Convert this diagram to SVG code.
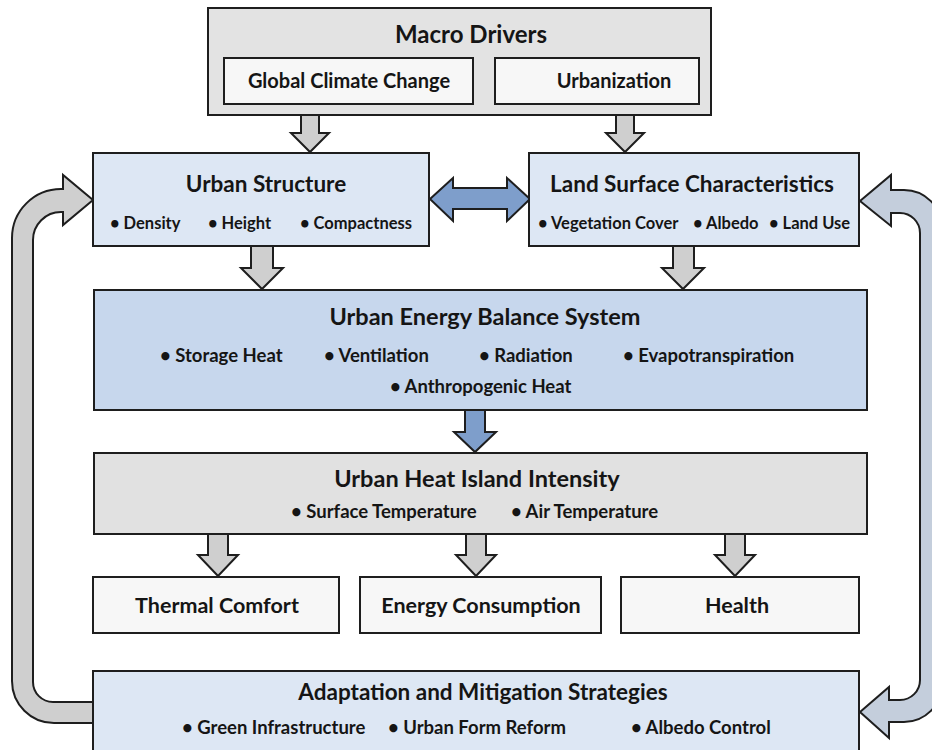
<svg xmlns="http://www.w3.org/2000/svg" width="932" height="750" viewBox="0 0 932 750">
<defs>
<style>
.box{stroke:#1e1e1e;stroke-width:2}
.gray{fill:#e3e3e3}
.white{fill:#f7f7f7}
.lblue{fill:#dde7f4}
.mblue{fill:#c7d7ed}
.uhi{fill:#e1e1e1}
.t{font-family:Lato,"Open Sans","Liberation Sans",sans-serif;font-weight:700;fill:#151515;text-anchor:middle}
.t24{font-size:24px}
.t20{font-size:20px}
.t225{font-size:22.5px}
.t235{font-size:23.5px}
.t215{font-size:21.5px}
.b{font-family:Lato,"Open Sans","Liberation Sans",sans-serif;font-weight:700;fill:#151515}
.b165{font-size:16.5px}
.b185{font-size:18.5px}
.ga{fill:#cfcfcf;stroke:#1e1e1e;stroke-width:2;stroke-linejoin:miter}
.ba{fill:#7e9ecb;stroke:#1e1e1e;stroke-width:2}
.ra{fill:#c4cedc;stroke:#1e1e1e;stroke-width:2}
</style>
</defs>
<rect width="932" height="750" fill="#ffffff"/>

<g id="connectors">
<path class="ga" d="M301,115 L319,115 L319,133 L329,133 L310,152 L291,133 L301,133 Z"/>
<path class="ga" d="M616,115 L634,115 L634,133 L644,133 L625,152 L606,133 L616,133 Z"/>
<path class="ga" d="M251,246 L273,246 L273,268 L283,268 L262,289 L241,268 L251,268 Z"/>
<path class="ga" d="M673,246 L694,246 L694,268 L704,268 L683,289 L662,268 L673,268 Z"/>
<path class="ba" d="M465,410 L485,410 L485,432 L496,432 L475,452 L454,432 L465,432 Z"/>
<path class="ga" d="M208,534 L228,534 L228,555 L238,555 L218,576 L198,555 L208,555 Z"/>
<path class="ga" d="M466,534 L486,534 L486,555 L496,555 L476,576 L456,555 L466,555 Z"/>
<path class="ga" d="M725,534 L745,534 L745,555 L755,555 L735,576 L715,555 L725,555 Z"/>
<path class="ba" d="M430,199 L453,178 L453,188 L507,188 L507,178 L530,199 L507,221 L507,209 L453,209 L453,221 Z"/>
<path class="ga" d="M93,702 L53,702 A20,20 0 0 1 33,682 L33,240 A28,28 0 0 1 61,212 L63,212 L63,225 L93,200 L63,175 L63,189 L61,189 A49,49 0 0 0 12,238 L12,681 A42,42 0 0 0 54,723 L93,723 Z"/>
<path class="ra" d="M860,201 L891,175 L891,190 L904,190 A38,38 0 0 1 942,228 L942,684 A38,38 0 0 1 904,722 L889,722 L889,738 L860,712 L889,687 L889,700 L900,700 A20,20 0 0 0 920,680 L920,233 A20,20 0 0 0 900,213 L891,213 L891,226 Z"/>
</g>

<g id="macro-drivers">
<rect class="box gray" x="208" y="8" width="503" height="107"/>
<text class="t t24" x="471" y="43">Macro Drivers</text>
</g>
<g id="global-climate-change">
<rect class="box white" x="224" y="58" width="249" height="46"/>
<text class="t t20" x="349" y="88">Global Climate Change</text>
</g>
<g id="urbanization">
<rect class="box white" x="495" y="58" width="204" height="46"/>
<text class="t t20" x="614" y="88">Urbanization</text>
</g>

<g id="urban-structure">
<rect class="box lblue" x="93" y="153" width="336" height="93"/>
<text class="t t225" x="266" y="192">Urban Structure</text>
<text class="b b165" x="110" y="229">• Density</text>
<text class="b b165" x="208" y="229">• Height</text>
<text class="b b165" x="300" y="229">• Compactness</text>
</g>

<g id="land-surface">
<rect class="box lblue" x="529" y="153" width="330" height="93"/>
<text class="t t225" x="692" y="192">Land Surface Characteristics</text>
<text class="b b165" x="538" y="229">• Vegetation Cover</text>
<text class="b b165" x="693" y="229">• Albedo</text>
<text class="b b165" x="769" y="229">• Land Use</text>
</g>

<g id="energy-balance">
<rect class="box mblue" x="94" y="290" width="773" height="120"/>
<text class="t t235" x="485" y="325">Urban Energy Balance System</text>
<text class="b b185" x="160" y="362">• Storage Heat</text>
<text class="b b185" x="324" y="362">• Ventilation</text>
<text class="b b185" x="479" y="362">• Radiation</text>
<text class="b b185" x="623" y="362">• Evapotranspiration</text>
<text class="b b185" x="390" y="393">• Anthropogenic Heat</text>
</g>

<g id="heat-island">
<rect class="box uhi" x="94" y="453" width="773" height="81"/>
<text class="t t235" x="477" y="487">Urban Heat Island Intensity</text>
<text class="b b185" x="291" y="518">• Surface Temperature</text>
<text class="b b185" x="511" y="518">• Air Temperature</text>
</g>

<g id="thermal-comfort">
<rect class="box white" x="93" y="577" width="246" height="56"/>
<text class="t t215" x="217" y="613">Thermal Comfort</text>
</g>
<g id="energy-consumption">
<rect class="box white" x="360" y="577" width="241" height="56"/>
<text class="t t215" x="481" y="613">Energy Consumption</text>
</g>
<g id="health">
<rect class="box white" x="621" y="577" width="238" height="56"/>
<text class="t t215" x="737" y="613">Health</text>
</g>

<g id="adaptation">
<rect class="box lblue" x="93" y="671" width="766" height="100"/>
<text class="t t225" x="483" y="700">Adaptation and Mitigation Strategies</text>
<text class="b b185" x="182" y="734">• Green Infrastructure</text>
<text class="b b185" x="388" y="734">• Urban Form Reform</text>
<text class="b b185" x="631" y="734">• Albedo Control</text>
</g>
</svg>
